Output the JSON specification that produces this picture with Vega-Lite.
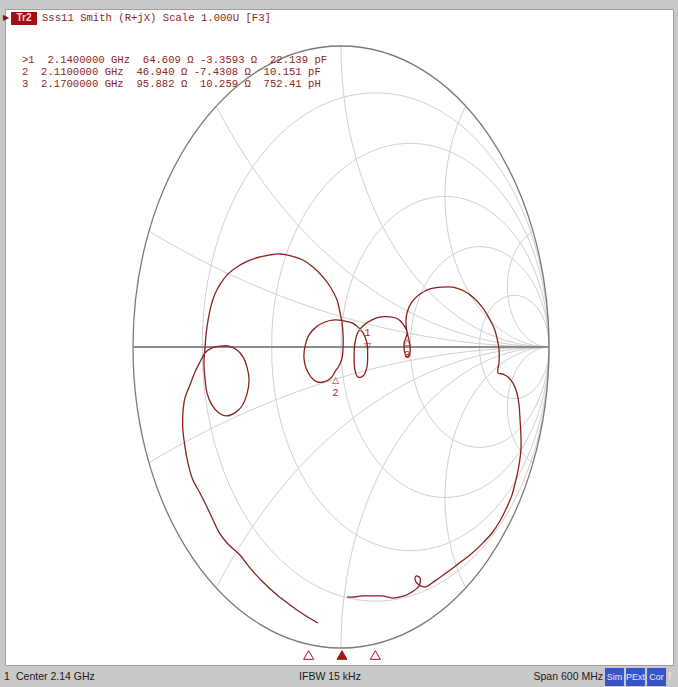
{
  "$schema": "https://vega.github.io/schema/vega-lite/v6.json",
  "width": 668,
  "height": 656,
  "autosize": {"type": "none"},
  "padding": {"left": 5, "top": 9, "right": 5, "bottom": 22},
  "background": "#c9c9c9",
  "config": {"view": {"fill": "#ffffff", "stroke": "#a0a0a0", "strokeWidth": 1}},
  "datasets": {
    "trace": [
      {"i":1,"re":-0.111,"im":-0.917},{"i":2,"re":-0.183,"im":-0.887},{"i":3,"re":-0.245,"im":-0.857},{"i":4,"re":-0.313,"im":-0.821},
      {"i":5,"re":-0.375,"im":-0.781},{"i":6,"re":-0.438,"im":-0.734},{"i":7,"re":-0.486,"im":-0.691},{"i":8,"re":-0.548,"im":-0.651},
      {"i":9,"re":-0.587,"im":-0.615},{"i":10,"re":-0.615,"im":-0.575},{"i":11,"re":-0.649,"im":-0.525},{"i":12,"re":-0.678,"im":-0.485},
      {"i":13,"re":-0.712,"im":-0.442},{"i":14,"re":-0.736,"im":-0.385},{"i":15,"re":-0.750,"im":-0.332},{"i":16,"re":-0.760,"im":-0.276},
      {"i":17,"re":-0.760,"im":-0.219},{"i":18,"re":-0.750,"im":-0.169},{"i":19,"re":-0.726,"im":-0.126},{"i":20,"re":-0.702,"im":-0.083},
      {"i":21,"re":-0.678,"im":-0.050},{"i":22,"re":-0.654,"im":-0.020},{"i":23,"re":-0.620,"im":-0.003},{"i":24,"re":-0.582,"im":0.003},
      {"i":25,"re":-0.538,"im":0.003},{"i":26,"re":-0.500,"im":-0.010},{"i":27,"re":-0.471,"im":-0.033},{"i":28,"re":-0.452,"im":-0.066},
      {"i":29,"re":-0.442,"im":-0.110},{"i":30,"re":-0.452,"im":-0.156},{"i":31,"re":-0.476,"im":-0.196},{"i":32,"re":-0.510,"im":-0.219},
      {"i":33,"re":-0.548,"im":-0.229},{"i":34,"re":-0.587,"im":-0.219},{"i":35,"re":-0.620,"im":-0.193},{"i":36,"re":-0.644,"im":-0.153},
      {"i":37,"re":-0.654,"im":-0.103},{"i":38,"re":-0.659,"im":-0.053},{"i":39,"re":-0.654,"im":-0.003},{"i":40,"re":-0.649,"im":0.040},
      {"i":41,"re":-0.639,"im":0.090},{"i":42,"re":-0.625,"im":0.136},{"i":43,"re":-0.606,"im":0.176},{"i":44,"re":-0.577,"im":0.213},
      {"i":45,"re":-0.543,"im":0.243},{"i":46,"re":-0.500,"im":0.266},{"i":47,"re":-0.447,"im":0.286},{"i":48,"re":-0.389,"im":0.299},
      {"i":49,"re":-0.341,"im":0.306},{"i":50,"re":-0.293,"im":0.309},{"i":51,"re":-0.236,"im":0.302},{"i":52,"re":-0.183,"im":0.289},
      {"i":53,"re":-0.135,"im":0.266},{"i":54,"re":-0.087,"im":0.233},{"i":55,"re":-0.048,"im":0.196},{"i":56,"re":-0.019,"im":0.156},
      {"i":57,"re":-0.005,"im":0.116},{"i":58,"re":0.005,"im":0.080},{"i":59,"re":0.010,"im":0.040},{"i":60,"re":0.010,"im":0.000},
      {"i":61,"re":0.005,"im":-0.037},{"i":62,"re":-0.010,"im":-0.063},{"i":63,"re":-0.026,"im":-0.079},{"i":64,"re":-0.048,"im":-0.103},
      {"i":65,"re":-0.082,"im":-0.116},{"i":66,"re":-0.115,"im":-0.116},{"i":67,"re":-0.144,"im":-0.100},{"i":68,"re":-0.168,"im":-0.070},
      {"i":69,"re":-0.178,"im":-0.037},{"i":70,"re":-0.173,"im":0.003},{"i":71,"re":-0.154,"im":0.040},{"i":72,"re":-0.120,"im":0.066},
      {"i":73,"re":-0.077,"im":0.083},{"i":74,"re":-0.029,"im":0.090},{"i":75,"re":0.019,"im":0.086},{"i":76,"re":0.053,"im":0.080},
      {"i":77,"re":0.082,"im":0.066},{"i":78,"re":0.106,"im":0.047},{"i":79,"re":0.125,"im":0.013},{"i":80,"re":0.128,"im":-0.026},
      {"i":81,"re":0.125,"im":-0.066},{"i":82,"re":0.106,"im":-0.096},{"i":83,"re":0.082,"im":-0.100},{"i":84,"re":0.067,"im":-0.076},
      {"i":85,"re":0.063,"im":-0.033},{"i":86,"re":0.067,"im":0.013},{"i":87,"re":0.082,"im":0.050},{"i":88,"re":0.111,"im":0.073},
      {"i":89,"re":0.149,"im":0.090},{"i":90,"re":0.192,"im":0.100},{"i":91,"re":0.236,"im":0.100},{"i":92,"re":0.274,"im":0.093},
      {"i":93,"re":0.298,"im":0.076},{"i":94,"re":0.318,"im":0.048},{"i":95,"re":0.303,"im":0.010},{"i":96,"re":0.313,"im":-0.030},
      {"i":97,"re":0.327,"im":-0.030},{"i":98,"re":0.332,"im":0.003},{"i":99,"re":0.322,"im":0.037},{"i":100,"re":0.313,"im":0.070},
      {"i":101,"re":0.317,"im":0.113},{"i":102,"re":0.341,"im":0.150},{"i":103,"re":0.380,"im":0.176},{"i":104,"re":0.428,"im":0.193},
      {"i":105,"re":0.486,"im":0.199},{"i":106,"re":0.538,"im":0.199},{"i":107,"re":0.591,"im":0.186},{"i":108,"re":0.639,"im":0.163},
      {"i":109,"re":0.678,"im":0.133},{"i":110,"re":0.712,"im":0.096},{"i":111,"re":0.736,"im":0.063},{"i":112,"re":0.750,"im":0.030},
      {"i":113,"re":0.760,"im":-0.010},{"i":114,"re":0.760,"im":-0.050},{"i":115,"re":0.755,"im":-0.086},{"i":116,"re":0.779,"im":-0.090},
      {"i":117,"re":0.803,"im":-0.100},{"i":118,"re":0.827,"im":-0.120},{"i":119,"re":0.846,"im":-0.153},{"i":120,"re":0.856,"im":-0.193},
      {"i":121,"re":0.861,"im":-0.243},{"i":122,"re":0.865,"im":-0.292},{"i":123,"re":0.865,"im":-0.342},{"i":124,"re":0.856,"im":-0.392},
      {"i":125,"re":0.841,"im":-0.442},{"i":126,"re":0.822,"im":-0.492},{"i":127,"re":0.798,"im":-0.532},{"i":128,"re":0.764,"im":-0.578},
      {"i":129,"re":0.726,"im":-0.618},{"i":130,"re":0.678,"im":-0.654},{"i":131,"re":0.620,"im":-0.691},{"i":132,"re":0.563,"im":-0.721},
      {"i":133,"re":0.505,"im":-0.751},{"i":134,"re":0.452,"im":-0.777},{"i":135,"re":0.404,"im":-0.797},{"i":136,"re":0.375,"im":-0.791},
      {"i":137,"re":0.356,"im":-0.774},{"i":138,"re":0.361,"im":-0.761},{"i":139,"re":0.380,"im":-0.767},{"i":140,"re":0.375,"im":-0.794},
      {"i":141,"re":0.341,"im":-0.814},{"i":142,"re":0.303,"im":-0.827},{"i":143,"re":0.250,"im":-0.834},{"i":144,"re":0.197,"im":-0.827},
      {"i":145,"re":0.149,"im":-0.827},{"i":146,"re":0.101,"im":-0.827},{"i":147,"re":0.053,"im":-0.831},{"i":148,"re":0.029,"im":-0.831}
    ],
    "markers": [
      {"m":1,"freq":2.14,"re":0.128,"im":-0.026,"readout":">1\u00a0\u00a02.1400000\u00a0GHz\u00a0\u00a064.609\u00a0Ω\u00a0-3.3593\u00a0Ω\u00a0\u00a022.139\u00a0pF"},
      {"m":2,"freq":2.11,"re":-0.026,"im":-0.079,"readout":"\u00a02\u00a0\u00a02.1100000\u00a0GHz\u00a0\u00a046.940\u00a0Ω\u00a0-7.4308\u00a0Ω\u00a0\u00a010.151\u00a0pF"},
      {"m":3,"freq":2.17,"re":0.318,"im":0.048,"readout":"\u00a03\u00a0\u00a02.1700000\u00a0GHz\u00a0\u00a095.882\u00a0Ω\u00a0\u00a010.259\u00a0Ω\u00a0\u00a0752.41\u00a0pH"}
    ]
  },
  "layer": [
    {
      "layer": [
        {
          "data": {"values": [{}]},
          "mark": {"type": "point", "filled": false, "opacity": 1, "stroke": "#d0d0d0", "strokeWidth": 1, "size": 362404,
            "shape": "M -0.4607 0 A 0.5759 0.8333 0 1 1 0.691 0 A 0.5759 0.8333 0 1 1 -0.4607 0 M -0.2303 0 A 0.4607 0.6667 0 1 1 0.691 0 A 0.4607 0.6667 0 1 1 -0.2303 0 M 0 0 A 0.3455 0.5 0 1 1 0.691 0 A 0.3455 0.5 0 1 1 0 0 M 0.2303 0 A 0.2303 0.3333 0 1 1 0.691 0 A 0.2303 0.3333 0 1 1 0.2303 0 M 0.4607 0 A 0.1152 0.1667 0 1 1 0.691 0 A 0.1152 0.1667 0 1 1 0.4607 0 M 0.691 0 A 3.4552 5 0 0 1 -0.6379 -0.3846 M 0.691 0 A 1.3821 2 0 0 1 -0.4146 -0.8 M 0.691 0 A 0.691 1 0 0 1 0 -1 M 0.691 0 A 0.3455 0.5 0 0 1 0.4146 -0.8 M 0.691 0 A 0.1382 0.2 0 0 1 0.6379 -0.3846 M 0.691 0 A 3.4552 5 0 0 0 -0.6379 0.3846 M 0.691 0 A 1.3821 2 0 0 0 -0.4146 0.8 M 0.691 0 A 0.691 1 0 0 0 0 1 M 0.691 0 A 0.3455 0.5 0 0 0 0.4146 0.8 M 0.691 0 A 0.1382 0.2 0 0 0 0.6379 0.3846"},
          "encoding": {
            "x": {"datum": 0, "type": "quantitative", "scale": {"domain": [-1.6154, 1.5962], "nice": false, "zero": false}, "axis": null},
            "y": {"datum": 0, "type": "quantitative", "scale": {"domain": [-1.0565, 1.1229], "nice": false, "zero": false}, "axis": null}
          }
        },
        {
          "data": {"values": [{}]},
          "mark": {"type": "point", "filled": false, "opacity": 1, "stroke": "#7a7a7a", "strokeWidth": 1.3, "size": 362404,
            "shape": "M -0.691 0 A 0.691 1 0 1 1 0.691 0 A 0.691 1 0 1 1 -0.691 0"},
          "encoding": {
            "x": {"datum": 0, "type": "quantitative", "scale": {"domain": [-1.6154, 1.5962], "nice": false, "zero": false}, "axis": null},
            "y": {"datum": 0, "type": "quantitative", "scale": {"domain": [-1.0565, 1.1229], "nice": false, "zero": false}, "axis": null}
          }
        },
        {
          "data": {"values": [{}]},
          "mark": {"type": "rule", "color": "#8c8c8c", "strokeWidth": 2},
          "encoding": {
            "x": {"datum": -1, "type": "quantitative", "scale": {"domain": [-1.6154, 1.5962], "nice": false, "zero": false}, "axis": null},
            "x2": {"datum": 1},
            "y": {"datum": 0, "type": "quantitative", "scale": {"domain": [-1.0565, 1.1229], "nice": false, "zero": false}, "axis": null}
          }
        },
        {
          "data": {"name": "trace"},
          "mark": {"type": "line", "interpolate": "catmull-rom", "color": "#8c1f1f", "strokeWidth": 1.3},
          "encoding": {
            "x": {"field": "re", "type": "quantitative", "scale": {"domain": [-1.6154, 1.5962], "nice": false, "zero": false}, "axis": null},
            "y": {"field": "im", "type": "quantitative", "scale": {"domain": [-1.0565, 1.1229], "nice": false, "zero": false}, "axis": null},
            "order": {"field": "i", "type": "quantitative"}
          }
        },
        {
          "data": {"name": "markers"},
          "transform": [{"filter": "datum.m == 1"}],
          "layer": [
            {"mark": {"type": "text", "text": "▽", "dy": -9, "fontSize": 9, "font": "DejaVu Sans", "color": "#a82020"}},
            {"mark": {"type": "text", "dy": -22, "fontSize": 10, "font": "Liberation Mono", "color": "#a82020"}, "encoding": {"text": {"field": "m"}}}
          ],
          "encoding": {
            "x": {"field": "re", "type": "quantitative", "scale": {"domain": [-1.6154, 1.5962], "nice": false, "zero": false}, "axis": null},
            "y": {"field": "im", "type": "quantitative", "scale": {"domain": [-1.0565, 1.1229], "nice": false, "zero": false}, "axis": null}
          }
        },
        {
          "data": {"name": "markers"},
          "transform": [{"filter": "datum.m != 1"}],
          "layer": [
            {"mark": {"type": "text", "text": "△", "dy": 9, "fontSize": 9, "font": "DejaVu Sans", "color": "#a82020"}},
            {"mark": {"type": "text", "dy": 22, "fontSize": 10, "font": "Liberation Mono", "color": "#a82020"}, "encoding": {"text": {"field": "m"}}}
          ],
          "encoding": {
            "x": {"field": "re", "type": "quantitative", "scale": {"domain": [-1.6154, 1.5962], "nice": false, "zero": false}, "axis": null},
            "y": {"field": "im", "type": "quantitative", "scale": {"domain": [-1.0565, 1.1229], "nice": false, "zero": false}, "axis": null}
          }
        },
        {
          "data": {"name": "markers"},
          "transform": [{"filter": "datum.m == 1"}],
          "mark": {"type": "text", "align": "left", "fontSize": 10.6, "font": "Liberation Mono", "color": "#902424"},
          "encoding": {
            "x": {"datum": -1.5337, "type": "quantitative", "scale": {"domain": [-1.6154, 1.5962], "nice": false, "zero": false}, "axis": null},
            "y": {"datum": 0.9535, "type": "quantitative", "scale": {"domain": [-1.0565, 1.1229], "nice": false, "zero": false}, "axis": null},
            "text": {"field": "readout"}
          }
        },
        {
          "data": {"name": "markers"},
          "transform": [{"filter": "datum.m == 2"}],
          "mark": {"type": "text", "align": "left", "fontSize": 10.6, "font": "Liberation Mono", "color": "#902424"},
          "encoding": {
            "x": {"datum": -1.5337, "type": "quantitative", "scale": {"domain": [-1.6154, 1.5962], "nice": false, "zero": false}, "axis": null},
            "y": {"datum": 0.9136, "type": "quantitative", "scale": {"domain": [-1.0565, 1.1229], "nice": false, "zero": false}, "axis": null},
            "text": {"field": "readout"}
          }
        },
        {
          "data": {"name": "markers"},
          "transform": [{"filter": "datum.m == 3"}],
          "mark": {"type": "text", "align": "left", "fontSize": 10.6, "font": "Liberation Mono", "color": "#902424"},
          "encoding": {
            "x": {"datum": -1.5337, "type": "quantitative", "scale": {"domain": [-1.6154, 1.5962], "nice": false, "zero": false}, "axis": null},
            "y": {"datum": 0.8738, "type": "quantitative", "scale": {"domain": [-1.0565, 1.1229], "nice": false, "zero": false}, "axis": null},
            "text": {"field": "readout"}
          }
        },
        {
          "data": {"values": [{}]},
          "mark": {"type": "rect", "color": "#a01010"},
          "encoding": {
            "x": {"datum": -1.5865, "type": "quantitative", "scale": {"domain": [-1.6154, 1.5962], "nice": false, "zero": false}, "axis": null},
            "x2": {"datum": -1.4615},
            "y": {"datum": 1.113, "type": "quantitative", "scale": {"domain": [-1.0565, 1.1229], "nice": false, "zero": false}, "axis": null},
            "y2": {"datum": 1.0698}
          }
        },
        {
          "data": {"values": [{}]},
          "mark": {"type": "text", "text": "Tr2", "fontSize": 10, "font": "Liberation Sans", "fontWeight": "bold", "color": "#ffd6d6"},
          "encoding": {
            "x": {"datum": -1.524, "type": "quantitative", "scale": {"domain": [-1.6154, 1.5962], "nice": false, "zero": false}, "axis": null},
            "y": {"datum": 1.0914, "type": "quantitative", "scale": {"domain": [-1.0565, 1.1229], "nice": false, "zero": false}, "axis": null}
          }
        },
        {
          "data": {"values": [{}]},
          "mark": {"type": "text", "text": "▶", "fontSize": 8, "font": "DejaVu Sans", "color": "#8a1010"},
          "encoding": {
            "x": {"datum": -1.6106, "type": "quantitative", "scale": {"domain": [-1.6154, 1.5962], "nice": false, "zero": false}, "axis": null},
            "y": {"datum": 1.0914, "type": "quantitative", "scale": {"domain": [-1.0565, 1.1229], "nice": false, "zero": false}, "axis": null}
          }
        },
        {
          "data": {"values": [{}]},
          "mark": {"type": "text", "text": "Sss11 Smith (R+jX) Scale 1.000U [F3]", "align": "left", "fontSize": 10.6, "font": "Liberation Mono", "color": "#902424"},
          "encoding": {
            "x": {"datum": -1.4375, "type": "quantitative", "scale": {"domain": [-1.6154, 1.5962], "nice": false, "zero": false}, "axis": null},
            "y": {"datum": 1.0914, "type": "quantitative", "scale": {"domain": [-1.0565, 1.1229], "nice": false, "zero": false}, "axis": null}
          }
        },
        {
          "data": {"values": [{}]},
          "mark": {"type": "text", "text": "1", "align": "left", "fontSize": 10.5, "font": "Liberation Sans", "color": "#1a1a1a"},
          "encoding": {
            "x": {"datum": -1.62, "type": "quantitative", "scale": {"domain": [-1.6154, 1.5962], "nice": false, "zero": false}, "axis": null},
            "y": {"datum": -1.0963, "type": "quantitative", "scale": {"domain": [-1.0565, 1.1229], "nice": false, "zero": false}, "axis": null}
          }
        },
        {
          "data": {"values": [{}]},
          "mark": {"type": "text", "text": "Center 2.14 GHz", "align": "left", "fontSize": 10.5, "font": "Liberation Sans", "color": "#1a1a1a"},
          "encoding": {
            "x": {"datum": -1.5625, "type": "quantitative", "scale": {"domain": [-1.6154, 1.5962], "nice": false, "zero": false}, "axis": null},
            "y": {"datum": -1.0963, "type": "quantitative", "scale": {"domain": [-1.0565, 1.1229], "nice": false, "zero": false}, "axis": null}
          }
        },
        {
          "data": {"values": [{}]},
          "mark": {"type": "text", "text": "IFBW 15 kHz", "align": "center", "fontSize": 10.5, "font": "Liberation Sans", "color": "#1a1a1a"},
          "encoding": {
            "x": {"datum": -0.0529, "type": "quantitative", "scale": {"domain": [-1.6154, 1.5962], "nice": false, "zero": false}, "axis": null},
            "y": {"datum": -1.0963, "type": "quantitative", "scale": {"domain": [-1.0565, 1.1229], "nice": false, "zero": false}, "axis": null}
          }
        },
        {
          "data": {"values": [{}]},
          "mark": {"type": "text", "text": "Span 600 MHz", "align": "right", "fontSize": 10.5, "font": "Liberation Sans", "color": "#1a1a1a"},
          "encoding": {
            "x": {"datum": 1.2596, "type": "quantitative", "scale": {"domain": [-1.6154, 1.5962], "nice": false, "zero": false}, "axis": null},
            "y": {"datum": -1.0963, "type": "quantitative", "scale": {"domain": [-1.0565, 1.1229], "nice": false, "zero": false}, "axis": null}
          }
        },
        {
          "data": {"values": [{}]},
          "mark": {"type": "text", "text": "!", "align": "center", "fontSize": 10.5, "font": "Liberation Sans", "color": "#f4f4f4"},
          "encoding": {
            "x": {"datum": 1.5817, "type": "quantitative", "scale": {"domain": [-1.6154, 1.5962], "nice": false, "zero": false}, "axis": null},
            "y": {"datum": -1.0963, "type": "quantitative", "scale": {"domain": [-1.0565, 1.1229], "nice": false, "zero": false}, "axis": null}
          }
        }
      ]
    },
    {
      "data": {"name": "markers"},
      "mark": {"type": "point", "shape": "triangle-up", "size": 100, "filled": true, "strokeWidth": 1, "opacity": 1},
      "encoding": {
        "x": {"field": "freq", "type": "quantitative", "scale": {"domain": [1.84, 2.44], "range": [3.5, 670.5], "nice": false, "zero": false}, "axis": null},
        "y": {"datum": -1.0233, "type": "quantitative", "scale": {"domain": [-1.0565, 1.1229], "nice": false, "zero": false}, "axis": null},
        "fill": {"condition": {"test": "datum.m == 1", "value": "#a81818"}, "value": "#ffffff"},
        "stroke": {"value": "#a81818"}
      }
    },
    {
      "data": {"values": [{"label": "Sim"}, {"label": "PExt"}, {"label": "Cor"}]},
      "encoding": {
        "x": {"field": "label", "type": "nominal", "sort": null, "scale": {"domain": ["Sim", "PExt", "Cor"], "range": [600, 661], "paddingInner": 0.1, "paddingOuter": 0}, "axis": null}
      },
      "layer": [
        {
          "mark": {"type": "bar", "color": "#3653c8"},
          "encoding": {
            "y": {"datum": -1.0664, "type": "quantitative", "scale": {"domain": [-1.0565, 1.1229], "nice": false, "zero": false}, "axis": null},
            "y2": {"datum": -1.1262}
          }
        },
        {
          "mark": {"type": "text", "color": "#e6eaff", "fontSize": 9, "font": "Liberation Sans"},
          "encoding": {
            "y": {"datum": -1.0963, "type": "quantitative", "scale": {"domain": [-1.0565, 1.1229], "nice": false, "zero": false}, "axis": null},
            "text": {"field": "label"}
          }
        }
      ]
    }
  ],
  "resolve": {"scale": {"x": "independent"}}
}
